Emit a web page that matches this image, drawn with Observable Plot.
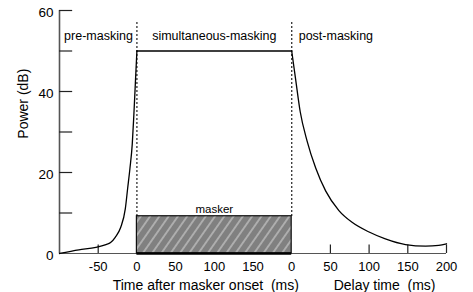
<!DOCTYPE html>
<html><head><meta charset="utf-8">
<script src="https://cdn.jsdelivr.net/npm/d3@7"></script>
<script src="https://cdn.jsdelivr.net/npm/@observablehq/plot@0.6"></script>
<style>body{margin:0;background:#fff} svg{display:block}</style>
</head><body><div id="chart"></div>
<script>
// Pre-masking curve: time after masker onset (ms) vs power (dB)
const preTime  = [-100, -75, -53, -40, -34, -28, -21, -15, -12, -9, -6, -4, -2, 0];
const prePower = [0, 0.9, 1.5, 2.2, 2.7, 4.0, 6.4, 11.0, 16, 21, 27, 34, 42, 50];
// Simultaneous masking plateau
const maskerOnset = 0;
const maskerDuration = 200;
const plateauPower = 50;
const maskerLevel = 9.2;
// Post-masking curve: delay time (ms) vs power (dB)
const postDelay = [0, 5, 11, 20, 31, 44, 61, 78, 100, 121, 147, 173, 190, 200];
const postPower = [50, 43.1, 35.0, 27.7, 21.1, 15.4, 10.6, 7.7, 5.3, 3.6, 2.2, 1.8, 2.0, 2.4];
// Axis ticks (composite position) and labels
const xTickPos = [-50, 0, 50, 100, 150, 200, 250, 300, 350, 400];
const xTickLabels = ["-50", "0", "50", "100", "150", "0", "50", "100", "150", "200"];
const xTickMarks = [-50, 250, 300, 350, 400];
const yTicks = [10, 20, 30, 40, 50, 60];
const yTickLabels = [0, 20, 40, 60];
const regionLabels = ["pre-masking", "simultaneous-masking", "post-masking"];
const maskerLabel = "masker";
const yTitle = "Power (dB)";
const xTitleOnset = "Time after masker onset\u00a0\u00a0(ms)";
const xTitleDelay = "Delay time\u00a0\u00a0(ms)";

const maskerEnd = maskerOnset + maskerDuration;
const pre = preTime.map((t, i) => ({x: t, y: prePower[i]}));
const plateau = [{x: maskerOnset, y: plateauPower}, {x: maskerEnd, y: plateauPower}];
const post = postDelay.map((d, i) => ({x: maskerEnd + d, y: postPower[i]}));

const axisColor = "#555";
const font = "Liberation Sans, Arial, Helvetica, sans-serif";

const chart = Plot.plot({
  width: 473, height: 292,
  marginLeft: 59, marginRight: 27, marginTop: 10, marginBottom: 39,
  style: {fontFamily: font, background: "#fff", color: "#000"},
  x: {domain: [-100, 400], axis: null},
  y: {domain: [0, 60], axis: null},
  marks: [
    // axes lines
    Plot.ruleY([0], {x1: -100, x2: 400, stroke: axisColor, strokeWidth: 1.2}),
    Plot.ruleX([-100], {y1: 0, y2: 60, stroke: axisColor, strokeWidth: 1.6}),
    Plot.ruleX(xTickMarks, {y1: 0, y2: 2.1, stroke: "#222", strokeWidth: 1.2}),
    Plot.ruleY(yTicks, {x1: -100, x2: -83, stroke: "#222", strokeWidth: 1.2}),
    // masker
    Plot.rect([{x1: maskerOnset, x2: maskerEnd, y1: 0, y2: maskerLevel}],
      {x1: "x1", x2: "x2", y1: "y1", y2: "y2", fill: "url(#hatch)", stroke: "#111", strokeWidth: 1.2}),
    Plot.ruleY([0], {x1: maskerOnset, x2: maskerEnd, stroke: "#000", strokeWidth: 2.4}),
    // dotted boundaries
    Plot.ruleX([maskerOnset, maskerEnd], {y1: maskerLevel, y2: 57, stroke: "#000", strokeWidth: 1.4, strokeDasharray: "1.4,2.6"}),
    // curve
    Plot.line(pre, {x: "x", y: "y", curve: "monotone-x", stroke: "#000", strokeWidth: 1.3}),
    Plot.line(plateau, {x: "x", y: "y", stroke: "#000", strokeWidth: 1.3}),
    Plot.line(post, {x: "x", y: "y", curve: "monotone-x", stroke: "#000", strokeWidth: 1.3}),
    // tick labels
    Plot.text(xTickPos, {x: d => d, y: 0, dy: 13, text: (d, i) => xTickLabels[i], fontSize: 13, lineAnchor: "middle"}),
    Plot.text(yTickLabels, {x: -100, y: d => d, dx: -6, dy: 2, text: d => String(d), textAnchor: "end", fontSize: 13.5, lineAnchor: "middle"}),
    // titles
    Plot.text([yTitle], {x: -100, y: 37, dx: -36, rotate: -90, fontSize: 14, lineAnchor: "middle"}),
    Plot.text([xTitleOnset], {x: 89, y: 0, dy: 32, fontSize: 14, lineAnchor: "middle"}),
    Plot.text([xTitleDelay], {x: 320, y: 0, dy: 32, fontSize: 14, lineAnchor: "middle"}),
    // region labels
    Plot.text([regionLabels[0]], {x: maskerOnset, y: 53.8, dx: -4, textAnchor: "end", fontSize: 12.5, lineAnchor: "middle"}),
    Plot.text([regionLabels[1]], {x: (maskerOnset + maskerEnd) / 2, y: 53.8, fontSize: 12.5, lineAnchor: "middle"}),
    Plot.text([regionLabels[2]], {x: maskerEnd, y: 53.8, dx: 7, textAnchor: "start", fontSize: 12.5, lineAnchor: "middle"}),
    Plot.text([maskerLabel], {x: (maskerOnset + maskerEnd) / 2, y: maskerLevel, dy: -7, fontSize: 11.5, lineAnchor: "middle"})
  ]
});

// hatch pattern
const ns = "http://www.w3.org/2000/svg";
const defs = document.createElementNS(ns, "defs");
defs.innerHTML = `<pattern id="hatch" patternUnits="userSpaceOnUse" width="7.6" height="7.6" patternTransform="rotate(35)">
  <rect width="7.6" height="7.6" fill="#808080"></rect>
  <line x1="3.8" y1="0" x2="3.8" y2="7.6" stroke="#c9c9c9" stroke-width="1.2"></line>
</pattern>`;
chart.insertBefore(defs, chart.firstChild);
document.getElementById("chart").appendChild(chart);
</script>
</body></html>
